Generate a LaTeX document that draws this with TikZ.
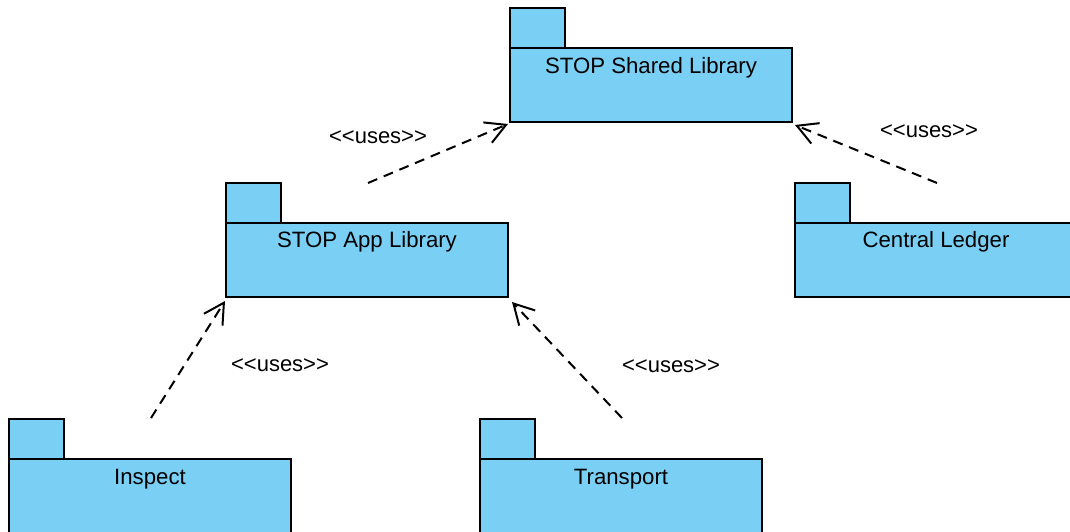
\documentclass[tikz,border=0pt]{standalone}
\usepackage{fontspec}
\setmainfont{Liberation Sans}
\usetikzlibrary{arrows.meta,calc}
\definecolor{pkg}{RGB}{122,207,244}
\newcommand{\usestxt}{\textless\kern0pt\textless\kern0pt uses\kern0pt\textgreater\kern0pt\textgreater}
\begin{document}
\begin{tikzpicture}[x=1pt,y=-1pt,
  pkgbody/.style={draw=black,fill=pkg,line width=2pt,minimum width=282pt,minimum height=74pt,inner sep=0pt,outer sep=0pt,anchor=north west},
  pkgtab/.style={draw=black,fill=pkg,line width=2pt},
  pkgname/.style={font=\fontsize{22.2}{26}\selectfont,anchor=base,inner sep=0pt},
  stereo/.style={font=\fontsize{22}{26}\selectfont,anchor=base,inner sep=0pt},
  uses/.style={line width=2pt,dash pattern=on 10pt off 7pt,-{Straight Barb[length=20pt,width=22pt,line width=2pt]}}]
\clip (0,0) rectangle (1070,532);
\fill[white] (0,0) rectangle (1070,532);
% packages
\node[pkgbody] (shared) at (510,48) {};
\draw[pkgtab] (shared.north west) rectangle ++(55,-40);
\node[pkgname] (sharedT) at ($(shared.north)+(0,25.5)$) {STOP Shared Library};

\node[pkgbody] (app) at (226,223) {};
\draw[pkgtab] (app.north west) rectangle ++(55,-40);
\node[pkgname] (appT) at ($(app.north)+(0,24.5)$) {STOP App Library};

\node[pkgbody] (ledger) at (795,223) {};
\draw[pkgtab] (ledger.north west) rectangle ++(55,-40);
\node[pkgname] (ledgerT) at ($(ledger.north)+(0,24.5)$) {Central Ledger};

\node[pkgbody] (inspect) at (9,459) {};
\draw[pkgtab] (inspect.north west) rectangle ++(55,-40);
\node[pkgname] (inspectT) at ($(inspect.north)+(0,25)$) {Inspect};

\node[pkgbody] (transport) at (480,459) {};
\draw[pkgtab] (transport.north west) rectangle ++(55,-40);
\node[pkgname] (transportT) at ($(transport.north)+(0,25)$) {Transport};

% dependencies
\coordinate (s1) at (368,183);
\coordinate (s2) at (937,183);
\coordinate (s3) at (151,418);
\coordinate (s4) at (622,418);
\draw[uses] (s1) -- ([shift={(-2,2)}]shared.south west);
\draw[uses] (s2) -- ([shift={(3,3)}]shared.south east);
\draw[uses] (s3) -- ([shift={(-1,4)}]app.south west);
\draw[uses] (s4) -- ([shift={(4,5)}]app.south east);

\node[stereo] (l1) at (378,143) {\usestxt};
\node[stereo] (l2) at (929,138) {\usestxt};
\node[stereo] (l3) at (280,371) {\usestxt};
\node[stereo] (l4) at (671,372) {\usestxt};
\end{tikzpicture}
\end{document}
